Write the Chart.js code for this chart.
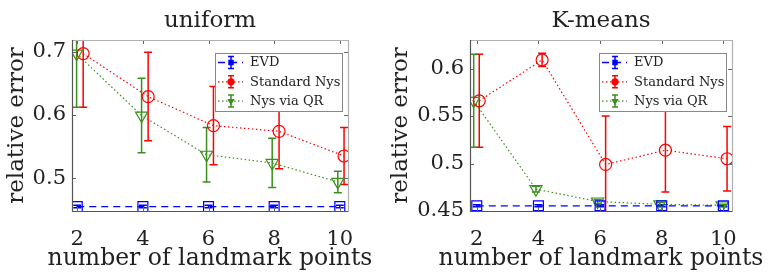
<!DOCTYPE html>
<html><head><meta charset="utf-8">
<script src="https://cdn.jsdelivr.net/npm/chart.js@4"></script>
<style>
html,body{margin:0;padding:0;background:#fff;width:768px;height:280px;overflow:hidden}
.box{position:absolute;top:0;width:384px;height:280px}
</style></head><body>
<div class="box" style="left:0"><canvas id="c1" width="384" height="280"></canvas></div>
<div class="box" style="left:384px"><canvas id="c2" width="384" height="280"></canvas></div>
<script>
// ---------- data ----------
const xTicks = [2, 4, 6, 8, 10];
const seriesLabels = ['EVD', 'Standard Nys', 'Nys via QR'];
const xAxisLabel = 'number of landmark points';
const yAxisLabel = 'relative error';

// uniform
const uniTitle = 'uniform';
const uniYTicks = [0.5, 0.6, 0.7];
const uniEvdX = [2, 4, 6, 8, 10];
const uniEvd = [0.455, 0.455, 0.455, 0.455, 0.455];
const uniEvdErr = [0.002, 0.002, 0.002, 0.002, 0.002];
const uniStdX = [2.18, 4.16, 6.15, 8.15, 10.13];
const uniStd = [0.697, 0.629, 0.583, 0.574, 0.535];
const uniStdErr = [0.085, 0.070, 0.062, 0.059, 0.045];
const uniQrX = [1.98, 3.96, 5.94, 7.94, 9.94];
const uniQr = [0.697, 0.599, 0.537, 0.524, 0.494];
const uniQrErr = [0.085, 0.059, 0.043, 0.039, 0.017];

// K-means
const kmTitle = 'K-means';
const kmYTicks = [0.45, 0.5, 0.55, 0.6];
const kmEvdX = [2, 4, 6, 8, 10];
const kmEvd = [0.4555, 0.4555, 0.4555, 0.4555, 0.4555];
const kmEvdErr = [0.001, 0.001, 0.001, 0.001, 0.001];
const kmStdX = [2.08, 4.12, 6.18, 8.12, 10.12];
const kmStd = [0.566, 0.609, 0.499, 0.514, 0.505];
const kmStdErr = [0.049, 0.007, 0.051, 0.044, 0.034];
const kmQrX = [1.9, 3.92, 5.92, 7.94, 9.96];
const kmQr = [0.566, 0.473, 0.460, 0.457, 0.456];
const kmQrErr = [0.049, 0.003, 0.002, 0.002, 0.001];

// ---------- styles ----------
const FONT = "'DejaVu Serif', serif";
const TXT = '#222';
const BLUE = '#0000ff', RED = '#ff0000', GREEN = '#3a901c';

function pts(xs, ys) { return xs.map((x, i) => ({x: x, y: ys[i]})); }

const errorBarPlugin = {
  id: 'errbars',
  beforeDatasetsDraw(chart) {
    const {ctx, chartArea: a, scales: {x, y}} = chart;
    ctx.save();
    ctx.beginPath(); ctx.rect(a.left, a.top, a.right - a.left, a.bottom - a.top); ctx.clip();
    chart.data.datasets.forEach(ds => {
      ctx.strokeStyle = ds.borderColor; ctx.lineWidth = 1.5; ctx.setLineDash([]);
      const cap = 4;
      ds.data.forEach((p, j) => {
        const e = ds.errors[j];
        const px = x.getPixelForValue(p.x);
        const y1 = y.getPixelForValue(p.y + e), y2 = y.getPixelForValue(p.y - e);
        ctx.beginPath();
        ctx.moveTo(px, y1); ctx.lineTo(px, y2);
        ctx.moveTo(px - cap, y1); ctx.lineTo(px + cap, y1);
        ctx.moveTo(px - cap, y2); ctx.lineTo(px + cap, y2);
        ctx.stroke();
      });
    });
    ctx.restore();
  }
};

const frameLegendPlugin = {
  id: 'frameLegend',
  afterDraw(chart) {
    const {ctx, chartArea: a, scales: {x, y}} = chart;
    const cx = (a.left + a.right) / 2;
    ctx.save();
    ctx.setLineDash([]);
    // titles
    ctx.fillStyle = TXT;
    ctx.textAlign = 'center';
    ctx.textBaseline = 'alphabetic';
    ctx.font = "23px " + FONT;
    ctx.fillText(chart.options.plotTitle, cx, 27);
    ctx.font = "23.5px " + FONT;
    ctx.fillText(xAxisLabel, cx, 265);
    // inward ticks
    ctx.strokeStyle = '#666'; ctx.lineWidth = 1;
    ctx.beginPath();
    x.ticks.forEach(t => {
      const px = Math.round(x.getPixelForValue(t.value)) + 0.5;
      ctx.moveTo(px, a.bottom); ctx.lineTo(px, a.bottom - 4);
      ctx.moveTo(px, a.top); ctx.lineTo(px, a.top + 4);
    });
    y.ticks.forEach(t => {
      const py = Math.round(y.getPixelForValue(t.value)) + 0.5;
      ctx.moveTo(a.left, py); ctx.lineTo(a.left + 4, py);
      ctx.moveTo(a.right, py); ctx.lineTo(a.right - 4, py);
    });
    ctx.stroke();
    // box
    ctx.lineWidth = 1.2;
    ctx.strokeStyle = '#b0b0b0';
    ctx.beginPath();
    ctx.moveTo(a.left, a.top + 0.5); ctx.lineTo(a.right + 0.5, a.top + 0.5); ctx.lineTo(a.right + 0.5, a.bottom);
    ctx.stroke();
    ctx.strokeStyle = '#555';
    ctx.beginPath();
    ctx.moveTo(a.left + 0.5, a.top); ctx.lineTo(a.left + 0.5, a.bottom + 0.5); ctx.lineTo(a.right + 0.5, a.bottom + 0.5);
    ctx.stroke();

    // legend
    const bw = 127, bh = 58;
    const bx = a.right - 6 - bw, by = a.top + 13;
    ctx.fillStyle = '#fff';
    ctx.fillRect(bx, by, bw, bh);
    ctx.strokeStyle = '#888'; ctx.lineWidth = 1;
    ctx.strokeRect(bx + 0.5, by + 0.5, bw, bh);
    ctx.font = "13px " + FONT;
    ctx.textBaseline = 'middle';
    ctx.textAlign = 'left';
    chart.data.datasets.forEach((ds, i) => {
      const ry = by + 9.5 + i * 19.3;
      const lx0 = bx + 3, lx1 = bx + 28, mx = bx + 16;
      ctx.strokeStyle = ds.borderColor;
      ctx.lineWidth = ds.borderWidth;
      ctx.setLineDash(ds.borderDash || []);
      ctx.beginPath(); ctx.moveTo(lx0, ry); ctx.lineTo(lx1, ry); ctx.stroke();
      ctx.setLineDash([]);
      ctx.lineWidth = 1.5;
      ctx.beginPath();
      ctx.moveTo(mx, ry - 6); ctx.lineTo(mx, ry + 6);
      ctx.moveTo(mx - 3, ry - 6); ctx.lineTo(mx + 3, ry - 6);
      ctx.moveTo(mx - 3, ry + 6); ctx.lineTo(mx + 3, ry + 6);
      ctx.stroke();
      ctx.lineWidth = 1.2;
      ctx.fillStyle = ds.borderColor;
      Chart.helpers.drawPoint(ctx, {pointStyle: ds.pointStyle, rotation: ds.pointRotation || 0, radius: 3, borderWidth: 1.2}, mx, ry);
      ctx.fillStyle = TXT;
      ctx.fillText(ds.label, bx + 35, ry + 0.5);
    });
    ctx.restore();
  }
};

function makeChart(id, title, yTicks, ymin, ymax, xmin, xmax, yWidth, sets) {
  const datasets = [
    {label: seriesLabels[0], data: pts(sets[0][0], sets[0][1]), errors: sets[0][2],
     borderColor: BLUE, borderWidth: 1.3, borderDash: [7, 5], pointStyle: 'rect', pointRadius: 7,
     pointBorderColor: BLUE, pointBackgroundColor: 'rgba(0,0,0,0)', pointBorderWidth: 1.2},
    {label: seriesLabels[1], data: pts(sets[1][0], sets[1][1]), errors: sets[1][2],
     borderColor: RED, borderWidth: 1.2, borderDash: [1.5, 2.5], pointStyle: 'circle', pointRadius: 6,
     pointBorderColor: RED, pointBackgroundColor: 'rgba(0,0,0,0)', pointBorderWidth: 1.2},
    {label: seriesLabels[2], data: pts(sets[2][0], sets[2][1]), errors: sets[2][2],
     borderColor: GREEN, borderWidth: 1.2, borderDash: [1.5, 2.5], pointStyle: 'triangle', pointRotation: 180, pointRadius: 7,
     pointBorderColor: GREEN, pointBackgroundColor: 'rgba(0,0,0,0)', pointBorderWidth: 1.2}
  ];
  return new Chart(document.getElementById(id), {
    type: 'scatter',
    data: {datasets: datasets.map(d => Object.assign({showLine: true, tension: 0}, d))},
    plugins: [errorBarPlugin, frameLegendPlugin],
    options: {
      plotTitle: title,
      responsive: false, animation: false, events: [],
      layout: {padding: {left: 0, right: 36, top: 40, bottom: 0}},
      plugins: {
        legend: {display: false}, tooltip: {enabled: false}, title: {display: false}
      },
      scales: {
        x: {
          type: 'linear', min: xmin, max: xmax,
          afterBuildTicks: s => { s.ticks = xTicks.map(v => ({value: v})); },
          afterFit: s => { s.height = 69; },
          grid: {display: false, drawTicks: false}, border: {display: false},
          ticks: {padding: 16, color: TXT, font: {family: FONT, size: 21}, callback: v => String(v), maxRotation: 0},
          title: {display: false}
        },
        y: {
          type: 'linear', min: ymin, max: ymax,
          afterBuildTicks: s => { s.ticks = yTicks.map(v => ({value: v})); },
          afterFit: s => { s.width = yWidth; },
          grid: {display: false, drawTicks: false}, border: {display: false},
          ticks: {padding: 6, color: TXT, font: {family: FONT, size: 21}, callback: v => String(v)},
          title: {display: true, text: yAxisLabel, color: TXT, font: {family: FONT, size: 23}, padding: {top: 3, bottom: 0}}
        }
      }
    }
  });
}

makeChart('c1', uniTitle, uniYTicks, 0.448, 0.7185, 1.84, 10.25, 72, [
  [uniEvdX, uniEvd, uniEvdErr], [uniStdX, uniStd, uniStdErr], [uniQrX, uniQr, uniQrErr]
]);
makeChart('c2', kmTitle, kmYTicks, 0.45, 0.63, 1.78, 10.28, 86, [
  [kmEvdX, kmEvd, kmEvdErr], [kmStdX, kmStd, kmStdErr], [kmQrX, kmQr, kmQrErr]
]);
</script>
</body></html>
